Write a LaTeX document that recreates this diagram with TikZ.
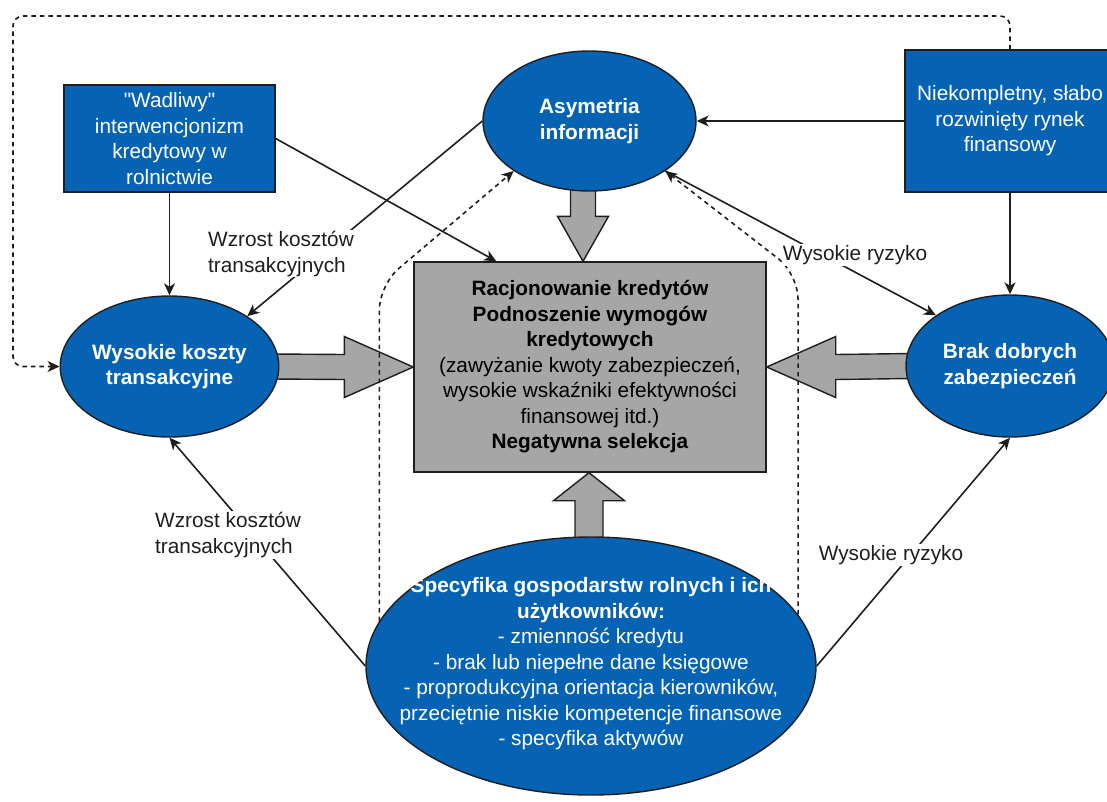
\documentclass[tikz,border=0pt]{standalone}
\usepackage{fontspec}
\setmainfont{Liberation Sans}[Ligatures=TeXOff]
\usetikzlibrary{shapes.geometric,arrows.meta,calc}
\definecolor{boxblue}{RGB}{6,99,180}
\definecolor{blockgray}{RGB}{166,166,166}
\definecolor{ink}{RGB}{30,30,30}
\pgfdeclarelayer{bg}
\pgfsetlayers{bg,main}

\begin{document}
\begin{tikzpicture}[x=1pt,y=-1pt,
  txt/.style={font=\fontsize{20.8}{25.5}\selectfont, align=center},
  txtb/.style={font=\bfseries\fontsize{20.8}{25.5}\selectfont, align=center},
  bluebox/.style={draw=ink, line width=1.4pt, fill=boxblue, text=white, txt,
    inner sep=0pt, minimum width=211pt, minimum height=107pt},
  blueell/.style={ellipse, draw=ink, line width=1.4pt, fill=boxblue, text=white,
    txtb, inner sep=0pt},
  graybox/.style={draw=ink, line width=1.4pt, fill=blockgray, text=black, txt,
    inner sep=0pt, minimum width=352pt, minimum height=210pt},
  blockarrow/.style={draw=ink, line width=1.4pt, fill=blockgray, line join=miter},
  conn/.style={draw=ink, line width=1.6pt, -{Stealth[length=12pt,width=11pt,inset=3.5pt]}},
  dashconn/.style={conn, dash pattern=on 4.5pt off 4pt},
  lbl/.style={fill=white, inner sep=1pt, font=\fontsize{20.8}{26}\selectfont,
    align=left, text=ink}]

\useasboundingbox (0,0) rectangle (1107,801);
\clip (0,0) rectangle (1107,801);

% main boxes and ellipses
\node[bluebox] (wad) at (169.5,138.5)
  {"Wadliwy"\\interwencjonizm\\kredytowy w\\rolnictwie};
\node[bluebox, minimum width=210pt, minimum height=142pt] (nk) at (1010,121)
  {Niekompletny, słabo\\rozwinięty rynek\\finansowy};
\node[blueell, minimum width=213pt, minimum height=140pt] (asym) at (589.5,121)
  {Asymetria\\informacji};
\node[blueell, minimum width=211pt, minimum height=141pt] (wk) at (169.5,366.5)
  {Wysokie koszty\\transakcyjne};
\node[blueell, minimum width=208pt, minimum height=142pt] (br) at (1010,366)
  {Brak dobrych\\zabezpieczeń};
\node[graybox] (rc) at (590,367)
  {\textbf{Racjonowanie kredytów}\\\textbf{Podnoszenie wymogów}\\\textbf{kredytowych}\\
   (zawyżanie kwoty zabezpieczeń,\\wysokie wskaźniki efektywności\\finansowej itd.)\\
   \textbf{Negatywna selekcja}};
\node[blueell, minimum width=450pt, minimum height=258pt] (spec) at (591,666) {};
\node[txt, text=white, inner sep=0pt] (spectext) at (591,664)
  {\textbf{Specyfika gospodarstw rolnych i ich}\\\textbf{użytkowników:}\\
   - zmienność kredytu\\- brak lub niepełne dane księgowe\\
   - proprodukcyjna orientacja kierowników,\\przeciętnie niskie kompetencje finansowe\\
   - specyfika aktywów};

% wide grey arrows into the central box
\begin{pgfonlayer}{bg}
  \coordinate (dtip) at ($(rc.north)+(-7,0)$);
  \coordinate (dsrc) at (dtip |- asym.south);
  \draw[blockarrow] ($(dsrc)+(-12.5,-6)$) -- ($(dtip)+(-12.5,-45)$) -- ($(dtip)+(-25.5,-45)$)
    -- (dtip) -- ($(dtip)+(25.5,-45)$) -- ($(dtip)+(12.5,-45)$) -- ($(dsrc)+(12.5,-6)$);
  \draw[blockarrow] ($(wk.east)+(-6,-12.5)$) -- ($(rc.west)+(-69,-12.5)$) -- ($(rc.west)+(-69,-30.5)$)
    -- (rc.west) -- ($(rc.west)+(-69,30.5)$) -- ($(rc.west)+(-69,12.5)$) -- ($(wk.east)+(-6,12.5)$);
  \draw[blockarrow] ($(br.west)+(6,-12.5)$) -- ($(rc.east)+(69,-12.5)$) -- ($(rc.east)+(69,-30.5)$)
    -- (rc.east) -- ($(rc.east)+(69,30.5)$) -- ($(rc.east)+(69,12.5)$) -- ($(br.west)+(6,12.5)$);
  \coordinate (utip) at ($(rc.south)+(-1,0)$);
  \coordinate (usrc) at (utip |- spec.north);
  \draw[blockarrow] ($(usrc)+(-14,6)$) -- ($(utip)+(-14,28)$) -- ($(utip)+(-35.5,28)$)
    -- (utip) -- ($(utip)+(35.5,28)$) -- ($(utip)+(14,28)$) -- ($(usrc)+(14,6)$);
\end{pgfonlayer}

% solid connectors
\draw[conn] (wad.south) -- (wk.north);
\draw[conn] (wad.east) -- ($(rc.north west)+(83,0)$);
\draw[conn] (asym.west) -- (wk.north east);
\draw[conn] (nk.west) -- (asym.east);
\draw[conn] (nk.south) -- (br.north);
\draw[conn] (asym.south east) -- (br.north west);
\draw[conn] (spec.west) -- (wk.south);
\draw[conn] (spec.east) -- (br.south);

% dashed feedback connectors
\coordinate (loopcorner) at (13,16);
\draw[dashconn, rounded corners=10pt] (nk.north) |- (loopcorner) |- (wk.west);
\coordinate (bendL) at (382,285);
\coordinate (bendR) at (796,274);
\draw[dashconn, rounded corners=25pt] (spec.168) -- (spec.168 |- bendL) -- (asym.south west);
\draw[dashconn, rounded corners=25pt] (spec.14) -- (spec.14 |- bendR) -- (asym.south east);

% connector labels
\node[lbl] (lwk1) at (281,253.5) {Wzrost kosztów\\transakcyjnych};
\node[lbl] (lbr1) at (855,255) {Wysokie ryzyko};
\node[lbl] (lwk2) at (228,535) {Wzrost kosztów\\transakcyjnych};
\node[lbl] (lbr2) at (891,555) {Wysokie ryzyko};
\end{tikzpicture}
\end{document}
